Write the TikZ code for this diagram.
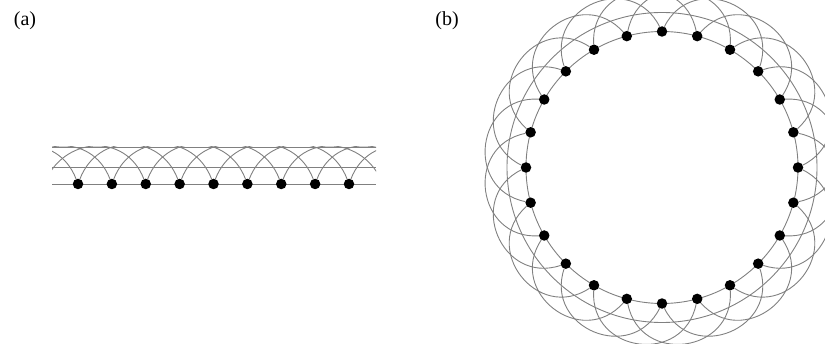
\documentclass[tikz,border=0pt]{standalone}
\usepackage{fontspec}
\setmainfont{Liberation Serif}

\begin{document}
\begin{tikzpicture}[x=1pt,y=1pt,
  bond/.style={draw=black!50, line width=0.9pt},
  site/.style={circle, fill=black, inner sep=0pt, minimum size=10.5pt},
  tag/.style={font=\fontsize{20}{24}\selectfont, inner sep=0pt}]
\useasboundingbox (0,0) rectangle (825,343);

\node[tag] (la) at (25,322) {(a)};
\node[tag] (lb) at (447,322) {(b)};

% (a) open chain
\coordinate (aw) at (52,159);
\coordinate (ae) at (376,159);
\coordinate (mw) at (52,176);
\coordinate (me) at (376,176);
\coordinate (tw) at (52,196);
\coordinate (te) at (376,196);
\draw[bond] (aw) -- (ae);
\draw[bond] (mw) -- (me);
\draw[bond] (tw) -- (te);
\foreach \k in {0,1,2,12,13,14}
  \coordinate (a\k) at (78+33.875*\k-101.625,159);
\foreach \k in {3,...,11}
  \node[site] (a\k) at (78+33.875*\k-101.625,159) {};
\begin{scope}
\clip (aw) ++(0,-20) rectangle (te);
\foreach \k in {0,...,11} {
  \pgfmathtruncatemacro\j{\k+3}
  \draw[bond] (a\k) to[out=69,in=111,looseness=1.3] (a\j);
}
\end{scope}

% (b) ring
\coordinate (c) at (662,175.5);
\draw[bond] (c) circle[radius=136];
\draw[bond] (c) circle[radius=155];
\foreach \i in {0,...,23}
  \node[site] (b\i) at ([shift={(15*\i:136)}]c) {};
\foreach \i in {0,...,23} {
  \pgfmathtruncatemacro\j{mod(\i+3,24)}
  \draw[bond] (b\i) to[bend right=86,looseness=1.55] (b\j);
}
\end{tikzpicture}
\end{document}
